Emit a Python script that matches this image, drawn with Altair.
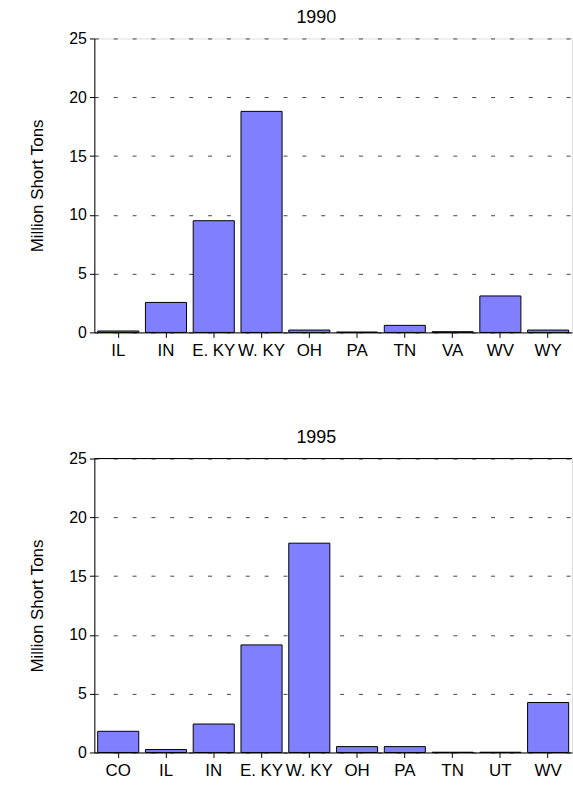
import altair as alt
import pandas as pd

states_1990 = ["IL", "IN", "E. KY", "W. KY", "OH", "PA", "TN", "VA", "WV", "WY"]
values_1990 = [0.12, 2.55, 9.5, 18.8, 0.2, 0.03, 0.6, 0.06, 3.1, 0.2]

states_1995 = ["CO", "IL", "IN", "E. KY", "W. KY", "OH", "PA", "TN", "UT", "WV"]
values_1995 = [1.8, 0.25, 2.42, 9.15, 17.8, 0.5, 0.5, 0.02, 0.02, 4.25]

y_ticks = [0, 5, 10, 15, 20, 25]
FONT = "Liberation Sans"
W, H = 481, 296


def panel(states, values, year, solid_top):
    df = pd.DataFrame({"state": states, "value": values})
    x = alt.X(
        "state:N",
        sort=states,
        title=None,
        scale=alt.Scale(paddingInner=0.14, paddingOuter=0.07),
        axis=alt.Axis(
            labelAngle=0, labelFont=FONT, labelFontSize=17, labelColor="black",
            labelOverlap=False, labelBound=False, labelPadding=5,
            tickColor="black", tickSize=5, domainColor="black", grid=False,
        ),
    )
    y = alt.Y(
        "value:Q",
        title="Million Short Tons",
        scale=alt.Scale(domain=[0, 25], nice=False),
        axis=alt.Axis(
            values=y_ticks, labelFont=FONT, labelFontSize=16, labelColor="black",
            titleFont=FONT, titleFontSize=17, titleFontWeight="normal", titleColor="black",
            titlePadding=22, tickColor="black", tickSize=5, labelPadding=3,
            domainColor="black", grid=True, gridColor="#444", gridDash=[4, 15],
            gridWidth=1,
        ),
    )
    bars = alt.Chart(df).mark_bar(
        color="#8080FF", stroke="black", strokeWidth=1
    ).encode(x=x, y=y)
    layers = [bars]
    if solid_top:
        top = alt.Chart(pd.DataFrame({"v": [25]})).mark_rule(
            color="black", strokeWidth=1
        ).encode(y=alt.Y("v:Q", scale=alt.Scale(domain=[0, 25], nice=False)))
        layers.append(top)
    return alt.layer(*layers).properties(
        width=W, height=H,
        title=alt.TitleParams(year, font=FONT, fontSize=18, fontWeight="normal",
                              color="black", offset=4, dx=-17),
    )


chart = alt.vconcat(
    panel(states_1990, values_1990, "1990", False),
    panel(states_1995, values_1995, "1995", True),
    spacing=69,
).properties(
    padding={"left": 28, "top": 5, "right": 0, "bottom": 0},
).configure_view(stroke=None).configure(background="white")

chart.save("out.html", embed_options={"renderer": "svg", "actions": False})
